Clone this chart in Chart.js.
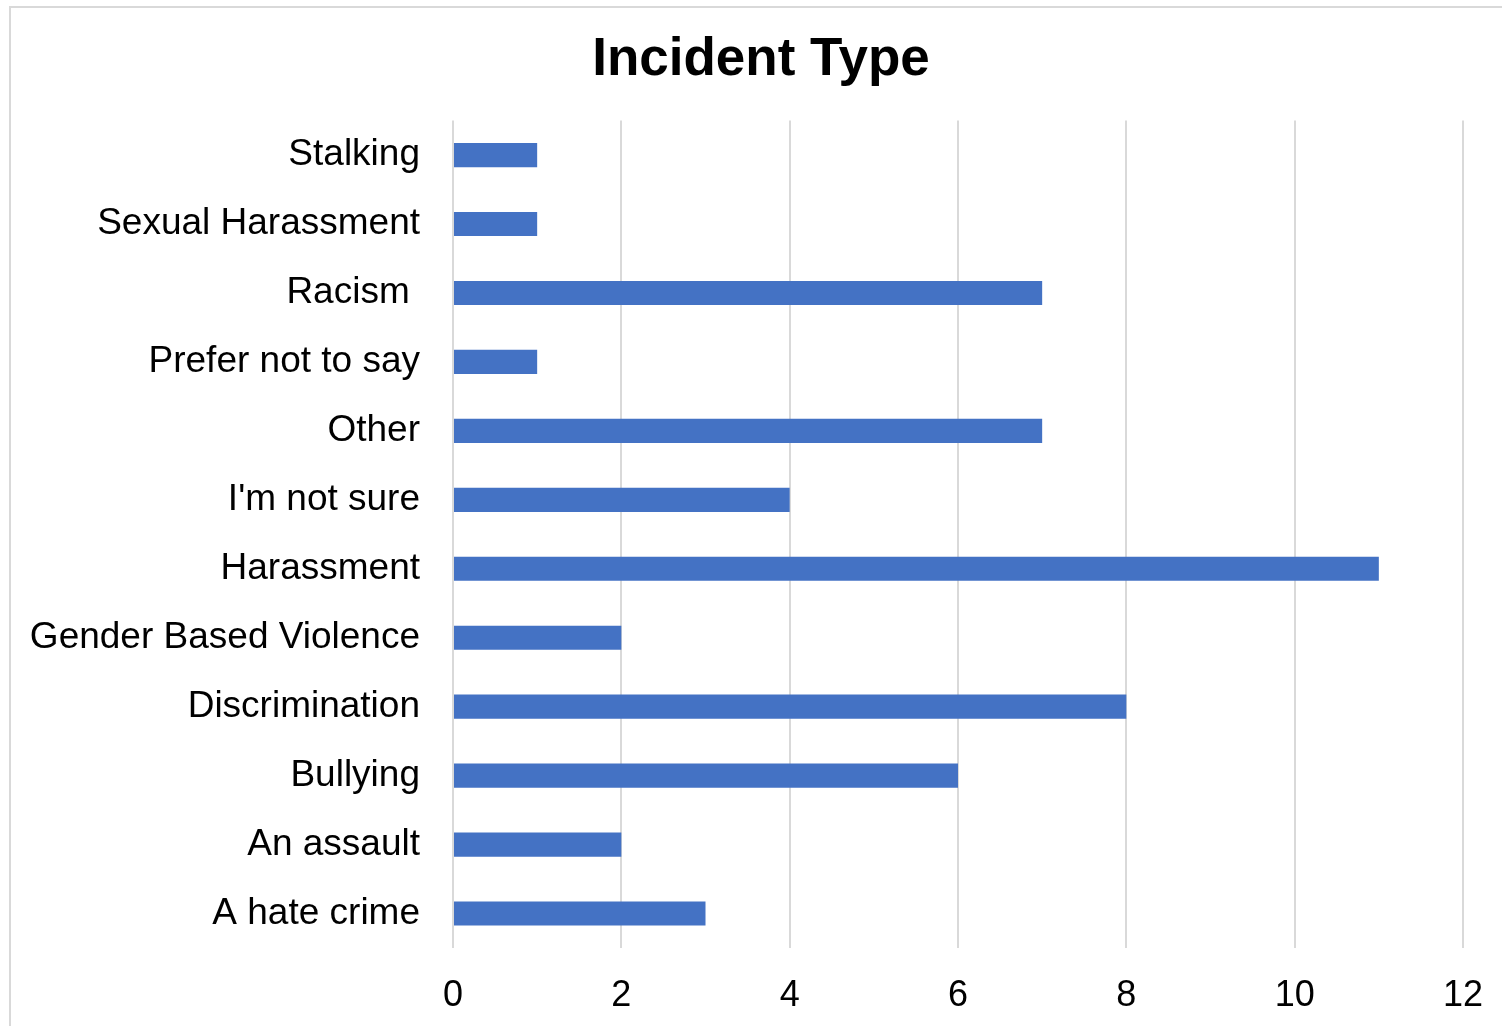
<!DOCTYPE html>
<html>
<head>
<meta charset="utf-8">
<script src="https://cdn.jsdelivr.net/npm/chart.js@4"></script>
<style>
  html, body { margin: 0; padding: 0; background: #fff; overflow: hidden; }
  .frame {
    position: absolute;
    left: 9px;
    top: 6px;
    width: 1520px;
    height: 1040px;
    border: 2px solid #d9d9d9;
    box-sizing: border-box;
  }
  .chart-container {
    position: absolute;
    left: 0;
    top: 0;
    width: 1502px;
    height: 1026px;
  }
</style>
</head>
<body>
<div class="frame"></div>
<div class="chart-container"><canvas id="chart"></canvas></div>
<script>
'use strict'

const title = 'Incident Type'

const categories = [
  'Stalking',
  'Sexual Harassment',
  'Racism ',
  'Prefer not to say',
  'Other',
  "I'm not sure",
  'Harassment',
  'Gender Based Violence',
  'Discrimination',
  'Bullying',
  'An assault',
  'A hate crime'
]

const counts = [1, 1, 7, 1, 7, 4, 11, 2, 8, 6, 2, 3]

const xTicks = [0, 2, 4, 6, 8, 10, 12]

const font = '"Liberation Sans", Arial, sans-serif'

new Chart(document.getElementById('chart').getContext('2d'), {
  type: 'bar',

  data: {
    labels: categories,
    datasets: [{
      data: counts,
      backgroundColor: '#4472C4',
      borderWidth: 0,
      categoryPercentage: 1,
      barPercentage: 0.35
    }]
  },

  options: {
    indexAxis: 'y',
    responsive: true,
    maintainAspectRatio: false,
    animation: false,
    devicePixelRatio: 1,

    layout: { padding: { left: 20, right: 0, top: 0, bottom: 0 } },

    scales: {
      x: {
        min: xTicks[0],
        max: xTicks[xTicks.length - 1],
        afterBuildTicks: scale => {
          scale.ticks = xTicks.map(value => ({ value }))
        },
        afterFit: scale => {
          scale.height = 78
          // the right strip below already leaves room for the "12" label
          scale.paddingRight = 0
        },
        grid: { color: '#d9d9d9', lineWidth: 2, drawTicks: false },
        border: { display: false },
        ticks: {
          padding: 26,
          color: '#000',
          font: { family: font, size: 36 }
        }
      },
      y: {
        grid: { display: false, drawTicks: false },
        border: { display: false },
        afterFit: scale => { scale.width = 433 },
        ticks: {
          padding: 33,
          color: '#000',
          font: { family: font, size: 37 }
        }
      },
      // empty right-hand strip so the plot ends where the original's does
      yRight: {
        position: 'right',
        grid: { display: false, drawTicks: false },
        border: { display: false },
        ticks: { display: false },
        afterFit: scale => { scale.width = 39 }
      }
    },

    plugins: {
      legend: { display: false },
      tooltip: { enabled: false },
      title: {
        display: true,
        text: title,
        color: '#000',
        font: { family: font, size: 53, weight: 'bold' },
        padding: { top: 29, bottom: 28 }
      }
    }
  }
})
</script>
</body>
</html>
